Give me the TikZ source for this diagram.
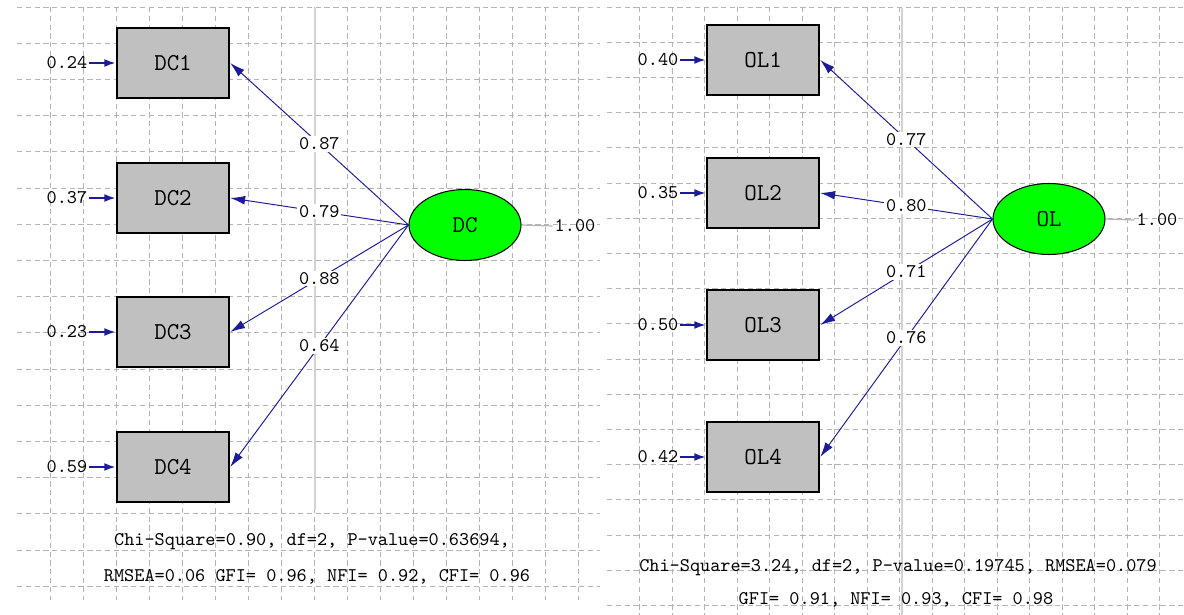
\documentclass[tikz,border=0pt]{standalone}
\usepackage{fontspec}
\newfontfamily\lisrel{Latin Modern Mono}
\usepackage{tikz}
\usetikzlibrary{arrows.meta, shapes.geometric}

\definecolor{pathblue}{RGB}{28,28,150}
\definecolor{boxgray}{RGB}{192,192,192}
\definecolor{gridgray}{RGB}{180,180,180}

\begin{document}
\begin{tikzpicture}[x=0.02cm, y=-0.02cm,
  obs/.style={draw, line width=1.1pt, fill=boxgray, minimum width=2.25cm, minimum height=1.39cm, inner sep=0pt, font=\lisrel\fontsize{13.8}{15}\selectfont},
  lat/.style={ellipse, draw, line width=0.6pt, fill=green, minimum width=2.24cm, minimum height=1.42cm, inner sep=0pt, font=\lisrel\fontsize{13.8}{15}\selectfont},
  num/.style={inner sep=1pt, font=\lisrel\fontsize{11}{12}\selectfont},
  coef/.style={num, fill=white, midway},
  load/.style={draw=pathblue, line width=0.55pt, -{Latex[length=8.5pt,width=5pt]}},
  res/.style={draw=pathblue, line width=1.1pt, -{Latex[length=6.5pt,width=4.5pt]}},
  unit/.style={draw=gridgray, line width=0.7pt},
  gridline/.style={gridgray, line width=0.55pt, dash pattern=on 3pt off 2pt}]
\useasboundingbox (0,0) rectangle (1184,615);
\fill[white] (0,0) rectangle (1184,615);

% grids
\foreach \k in {0,...,16}
  \draw[gridline] (17,7+36.2*\k) -- (600,7+36.2*\k);
\foreach \k in {1,...,17}
  \draw[gridline] (17+33*\k,7) -- (17+33*\k,600);
\draw[gridgray!60, line width=0.6pt] (315,8) -- (315,510);
\foreach \k in {0,...,17}
  \draw[gridline] (607,7+35.2*\k) -- (1184,7+35.2*\k);
\foreach \k in {1,...,17}
  \draw[gridline] (607+32.5*\k,7) -- (607+32.5*\k,615);
\draw[gridgray!60, line width=0.6pt] (902,8) -- (902,615);

% DC model
\node[obs] (dc1) at (173,63) {DC1};
\node[obs] (dc2) at (173,198) {DC2};
\node[obs] (dc3) at (173,332) {DC3};
\node[obs] (dc4) at (173,467) {DC4};
\node[lat] (dc) at (465,225) {DC};
\node[num] (edc1) at (67,63) {0.24};
\node[num] (edc2) at (67,198) {0.37};
\node[num] (edc3) at (67,332) {0.23};
\node[num] (edc4) at (67,467) {0.59};
\node[num] (vdc) at (575,226) {1.00};
\draw[res] (edc1) -- (dc1);
\draw[res] (edc2) -- (dc2);
\draw[res] (edc3) -- (dc3);
\draw[res] (edc4) -- (dc4);
\draw[load] (dc.west) -- node[coef] {0.87} (dc1.east);
\draw[load] (dc.west) -- node[coef] {0.79} (dc2.east);
\draw[load] (dc.west) -- node[coef] {0.88} (dc3.east);
\draw[load] (dc.west) -- node[coef] {0.64} (dc4.east);
\draw[unit] (dc.east) -- (vdc.west);
\node[num] (fitdc1) at (312,542) {Chi-Square=0.90, df=2, P-value=0.63694,};
\node[num] (fitdc2) at (317,577) {RMSEA=0.06 GFI= 0.96, NFI= 0.92, CFI= 0.96};

% OL model
\node[obs] (ol1) at (763,60) {OL1};
\node[obs] (ol2) at (763,193) {OL2};
\node[obs] (ol3) at (763,325) {OL3};
\node[obs] (ol4) at (763,457) {OL4};
\node[lat] (ol) at (1049,219) {OL};
\node[num] (eol1) at (658,60) {0.40};
\node[num] (eol2) at (658,193) {0.35};
\node[num] (eol3) at (658,325) {0.50};
\node[num] (eol4) at (658,457) {0.42};
\node[num] (vol) at (1157,220) {1.00};
\draw[res] (eol1) -- (ol1);
\draw[res] (eol2) -- (ol2);
\draw[res] (eol3) -- (ol3);
\draw[res] (eol4) -- (ol4);
\draw[load] (ol.west) -- node[coef] {0.77} (ol1.east);
\draw[load] (ol.west) -- node[coef] {0.80} (ol2.east);
\draw[load] (ol.west) -- node[coef] {0.71} (ol3.east);
\draw[load] (ol.west) -- node[coef] {0.76} (ol4.east);
\draw[unit] (ol.east) -- (vol.west);
\node[num] (fitol1) at (898,568) {Chi-Square=3.24, df=2, P-value=0.19745, RMSEA=0.079};
\node[num] (fitol2) at (896,600) {GFI= 0.91, NFI= 0.93, CFI= 0.98};
\end{tikzpicture}
\end{document}
